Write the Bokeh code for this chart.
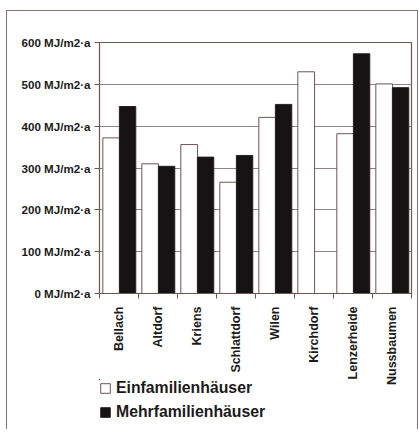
import math
from bokeh.plotting import figure
from bokeh.layouts import column
from bokeh.models import ColumnDataSource, FixedTicker, Range1d, Legend, LegendItem
from bokeh.embed import file_html
from bokeh.resources import INLINE

towns = ["Bellach", "Altdorf", "Kriens", "Schlattdorf", "Wilen", "Kirchdorf", "Lenzerheide", "Nussbaumen"]
efh = [372, 310, 356, 266, 421, 530, 382, 501]
mfh = [447, 304, 326, 330, 452, float("nan"), 573, 492]
y_ticks = [0, 100, 200, 300, 400, 500, 600]
y_labels = [f"{v} MJ/m2·a" for v in y_ticks]
series_names = ["Einfamilienhäuser", "Mehrfamilienhäuser"]

FONT = "Liberation Sans"
EDGE = "#6e5550"
TXT = "#1c1a1a"
WHITE_STYLE = dict(fill_color="white", line_color=EDGE, line_width=1)
BLACK_STYLE = dict(fill_color="#151313", line_color="#2a2020", line_width=1)

fig = figure(frame_width=312, frame_height=251, output_backend="svg", toolbar_location=None,
             x_range=Range1d(0, len(towns)), y_range=Range1d(0, 600),
             min_border_left=84, min_border_right=13, min_border_top=31, min_border_bottom=0)
fig.background_fill_color = "white"
fig.border_fill_color = "white"
fig.outline_line_color = EDGE
fig.outline_line_width = 1.2

xs_w = [i + 0.30 for i in range(len(towns))]
xs_b = [i + 0.72 for i in range(len(towns))]
src = ColumnDataSource(dict(xw=xs_w, xb=xs_b, efh=efh, mfh=mfh, town=towns))

fig.vbar(x="xw", top="efh", width=0.43, bottom=0, source=src, **WHITE_STYLE)
fig.vbar(x="xb", top="mfh", width=0.42, bottom=0, source=src, **BLACK_STYLE)

# y axis
fig.yaxis.ticker = FixedTicker(ticks=y_ticks, minor_ticks=[])
fig.yaxis.major_label_overrides = {v: lab for v, lab in zip(y_ticks, y_labels)}
fig.yaxis.axis_line_color = EDGE
fig.yaxis.major_tick_line_color = EDGE
fig.yaxis.major_tick_out = 5
fig.yaxis.major_tick_in = 0
fig.yaxis.major_label_standoff = 4
fig.yaxis.major_label_text_font = FONT
fig.yaxis.major_label_text_font_style = "bold"
fig.yaxis.major_label_text_font_size = "11.6px"
fig.yaxis.major_label_text_color = TXT

# x axis
centers = [i + 0.5 for i in range(len(towns))]
fig.xaxis.ticker = FixedTicker(ticks=centers, minor_ticks=list(range(len(towns) + 1)))
fig.xaxis.major_label_overrides = {c: t for c, t in zip(centers, towns)}
fig.xaxis.major_label_orientation = math.pi / 2
fig.xaxis.axis_line_color = EDGE
fig.xaxis.major_tick_line_color = None
fig.xaxis.major_tick_out = 5
fig.xaxis.minor_tick_line_color = EDGE
fig.xaxis.minor_tick_out = 5
fig.xaxis.minor_tick_in = 0
fig.xaxis.major_label_standoff = 8
fig.xaxis.major_label_text_font = FONT
fig.xaxis.major_label_text_font_style = "bold"
fig.xaxis.major_label_text_font_size = "12.5px"
fig.xaxis.major_label_text_color = TXT

fig.xgrid.grid_line_color = None
fig.ygrid.grid_line_color = "#8d8585"
fig.ygrid.grid_line_width = 1

# legend strip (its own small canvas; glyph renderers kept out of view)
leg = figure(width=410, height=50, output_backend="svg", toolbar_location=None,
             x_range=Range1d(100, 101), y_range=Range1d(-2, -1),
             x_axis_type=None, y_axis_type=None,
             min_border_left=92, min_border_right=0, min_border_top=0, min_border_bottom=0)
leg.outline_line_color = None
leg.grid.visible = False
leg.background_fill_alpha = 0
leg.border_fill_alpha = 0
lr1 = leg.vbar(x="xw", top="efh", width=0.43, bottom=0, source=src, **WHITE_STYLE)
lr2 = leg.vbar(x="xb", top="mfh", width=0.42, bottom=0, source=src, **BLACK_STYLE)

legend = Legend(items=[LegendItem(label=series_names[0], renderers=[lr1]),
                       LegendItem(label=series_names[1], renderers=[lr2])],
                location="top_left", orientation="vertical",
                label_text_font=FONT, label_text_font_style="bold",
                label_text_font_size="15.8px", label_text_color=TXT,
                glyph_width=12, glyph_height=12, label_standoff=5,
                spacing=6, padding=0, margin=0, border_line_color=None,
                background_fill_alpha=0, label_height=18)
leg.add_layout(legend, "center")
leg.styles = {"margin-top": "-8px"}

p = column(fig, leg, spacing=0)
p.styles = {"margin-left": "6px", "margin-top": "10px",
            "border-top": "1.5px solid #8a7470", "border-left": "1.5px solid #8a7470",
            "border-right": "1.5px solid #8a7470"}

open("out.html", "w").write(file_html(p, INLINE))
